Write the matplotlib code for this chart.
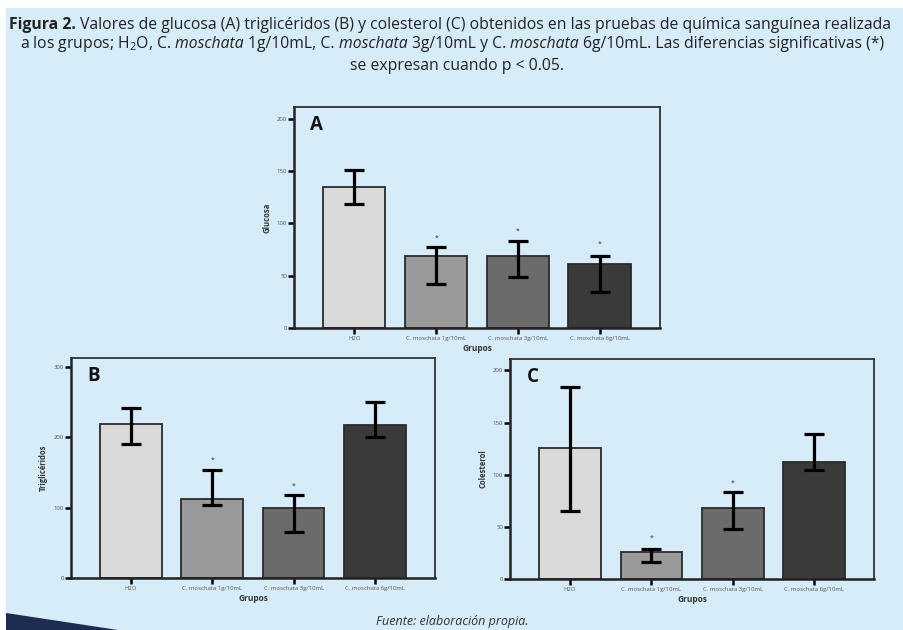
import matplotlib
matplotlib.use("Agg")
import matplotlib.pyplot as plt
from matplotlib.patches import Rectangle, Polygon

plt.rcParams['font.family'] = ['Open Sans', 'DejaVu Sans']
plt.rcParams['mathtext.fontset'] = 'custom'
plt.rcParams['mathtext.rm'] = 'Open Sans'
plt.rcParams['mathtext.it'] = 'Open Sans:italic'
plt.rcParams['mathtext.bf'] = 'Open Sans:bold'

# ---- data ----
groups = ["H2O", "C. moschata 1g/10mL", "C. moschata 3g/10mL", "C. moschata 6g/10mL"]

glucosa = [135, 69, 69, 61]
glucosa_low = [118, 42, 48.5, 34.5]
glucosa_high = [151, 77, 83, 69]
glucosa_star = [None, 86, 92, 80]

trig = [219, 112, 99.5, 217]
trig_low = [191, 104, 66, 201]
trig_high = [242, 154, 117.5, 251]
trig_star = [None, 168, 131, None]

col = [125.5, 25.6, 68, 112]
col_low = [65.6, 16.6, 48, 104.4]
col_high = [184, 28.5, 83, 139]
col_star = [None, 39, 92, None]

bar_colors = ["#d9d9d9", "#999999", "#6b6b6b", "#3a3a3a"]
BG = "#d6ecf9"

W, H = 904, 630
fig = plt.figure(figsize=(W / 100, H / 100), dpi=100)
fig.patch.set_facecolor("white")
renderer = fig.canvas.get_renderer()

# background panel
fig.add_artist(Rectangle((6 / W, 0), 1 - 6 / W, 1 - 8 / H, transform=fig.transFigure,
                         facecolor=BG, edgecolor="none", zorder=0))
fig.add_artist(Polygon([(6 / W, 1 - 613 / H), (118 / W, 0), (6 / W, 0)], closed=True,
                       transform=fig.transFigure, facecolor="#1f2c52", edgecolor="none", zorder=0))

TXT = "#222222"


def style_kw(st, fs):
    return dict(fontsize=fs, color=TXT,
                fontstyle="italic" if st == "i" else "normal",
                fontweight="bold" if st == "b" else "normal")


def width_of(s, st, fs):
    t = fig.text(0, 0, s, **style_kw(st, fs))
    w = t.get_window_extent(renderer).width
    t.remove()
    return w


def advance(s, st, fs):
    # width including any trailing space
    return width_of(s + "l", st, fs) - width_of("l", st, fs)


def rich_line(spec, x_px, base_px, align, fs):
    adv = [advance(s, st, fs) for s, st in spec]
    total = sum(adv[:-1]) + width_of(spec[-1][0], spec[-1][1], fs)
    x = x_px if align == "left" else x_px - total / 2
    for (s, st), a in zip(spec, adv):
        fig.text(x / W, 1 - base_px / H, s, ha="left", va="baseline", **style_kw(st, fs))
        x += a


title1 = [("Figura 2. ", "b"),
          ("Valores de glucosa (A) triglicéridos (B) y colesterol (C) obtenidos en las pruebas de química sanguínea realizada", "r")]
title2 = [("a los grupos; H$_2$O, C. ", "r"), ("moschata ", "i"), ("1g/10mL, C. ", "r"),
          ("moschata ", "i"), ("3g/10mL y C. ", "r"), ("moschata ", "i"),
          ("6g/10mL. Las diferencias significativas (*)", "r")]
title3 = [("se expresan cuando p < 0.05.", "r")]

rich_line(title1, 9, 29, "left", 11.3)
rich_line(title2, 452, 48, "center", 11.3)
rich_line(title3, 457, 70, "center", 11.3)

fig.text(452 / W, 1 - 622 / H, "Fuente: elaboración propia.", ha="center", va="center",
         fontsize=9, style="italic", color="#333333")


def panel(rect_px, vals, low, high, stars, ymax, yticks, ylabel, letter):
    l, t, r, b = rect_px
    ax = fig.add_axes([l / W, 1 - b / H, (r - l) / W, (b - t) / H])
    ax.set_facecolor("none")
    x = list(range(len(groups)))
    yerr = [[v - lo for v, lo in zip(vals, low)], [hi - v for v, hi in zip(vals, high)]]
    ax.bar(x, vals, width=0.76, color=bar_colors, edgecolor="#2b2b2b", linewidth=1.3, zorder=2)
    ax.errorbar(x, vals, yerr=yerr, fmt="none", ecolor="black", elinewidth=2.3,
                capsize=7.5, capthick=2.3, zorder=3)
    for xi, s in zip(x, stars):
        if s is not None:
            ax.text(xi, s, "*", ha="center", va="center", fontsize=5, color="#333333")
    ax.set_xlim(-0.74, 3.74)
    ax.set_ylim(0, ymax)
    ax.set_yticks(yticks)
    ax.set_yticklabels([str(v) for v in yticks])
    ax.set_xticks(x)
    ax.set_xticklabels(groups)
    ax.tick_params(axis="y", length=4, width=1.8, color="black", labelsize=4.3,
                   labelcolor="#555555", pad=1)
    ax.tick_params(axis="x", length=4, width=1.8, color="black", labelsize=4.3,
                   labelcolor="#555555", pad=2)
    for side in ["top", "right"]:
        ax.spines[side].set_linewidth(1.3)
        ax.spines[side].set_color("#333333")
    for side in ["left", "bottom"]:
        ax.spines[side].set_linewidth(1.8)
        ax.spines[side].set_color("#222222")
    ax.set_xlabel("Grupos", fontsize=6, fontweight="bold", color="#333333", labelpad=2)
    ax.set_ylabel(ylabel, fontsize=5.5, fontweight="bold", color="#333333", labelpad=4)
    ax.text(0.045, 0.92, letter, transform=ax.transAxes, ha="left", va="center",
            fontsize=13.5, fontweight="bold", color="#111111")
    return ax


panel((294, 107, 660, 328), glucosa, glucosa_low, glucosa_high, glucosa_star,
      211, [0, 50, 100, 150, 200], "Glucosa", "A")
panel((71, 358, 435, 578), trig, trig_low, trig_high, trig_star,
      313, [0, 100, 200, 300], "Triglicéridos", "B")
panel((510, 359, 874, 579), col, col_low, col_high, col_star,
      211, [0, 50, 100, 150, 200], "Colesterol", "C")

fig.savefig("out.png", dpi=100)
